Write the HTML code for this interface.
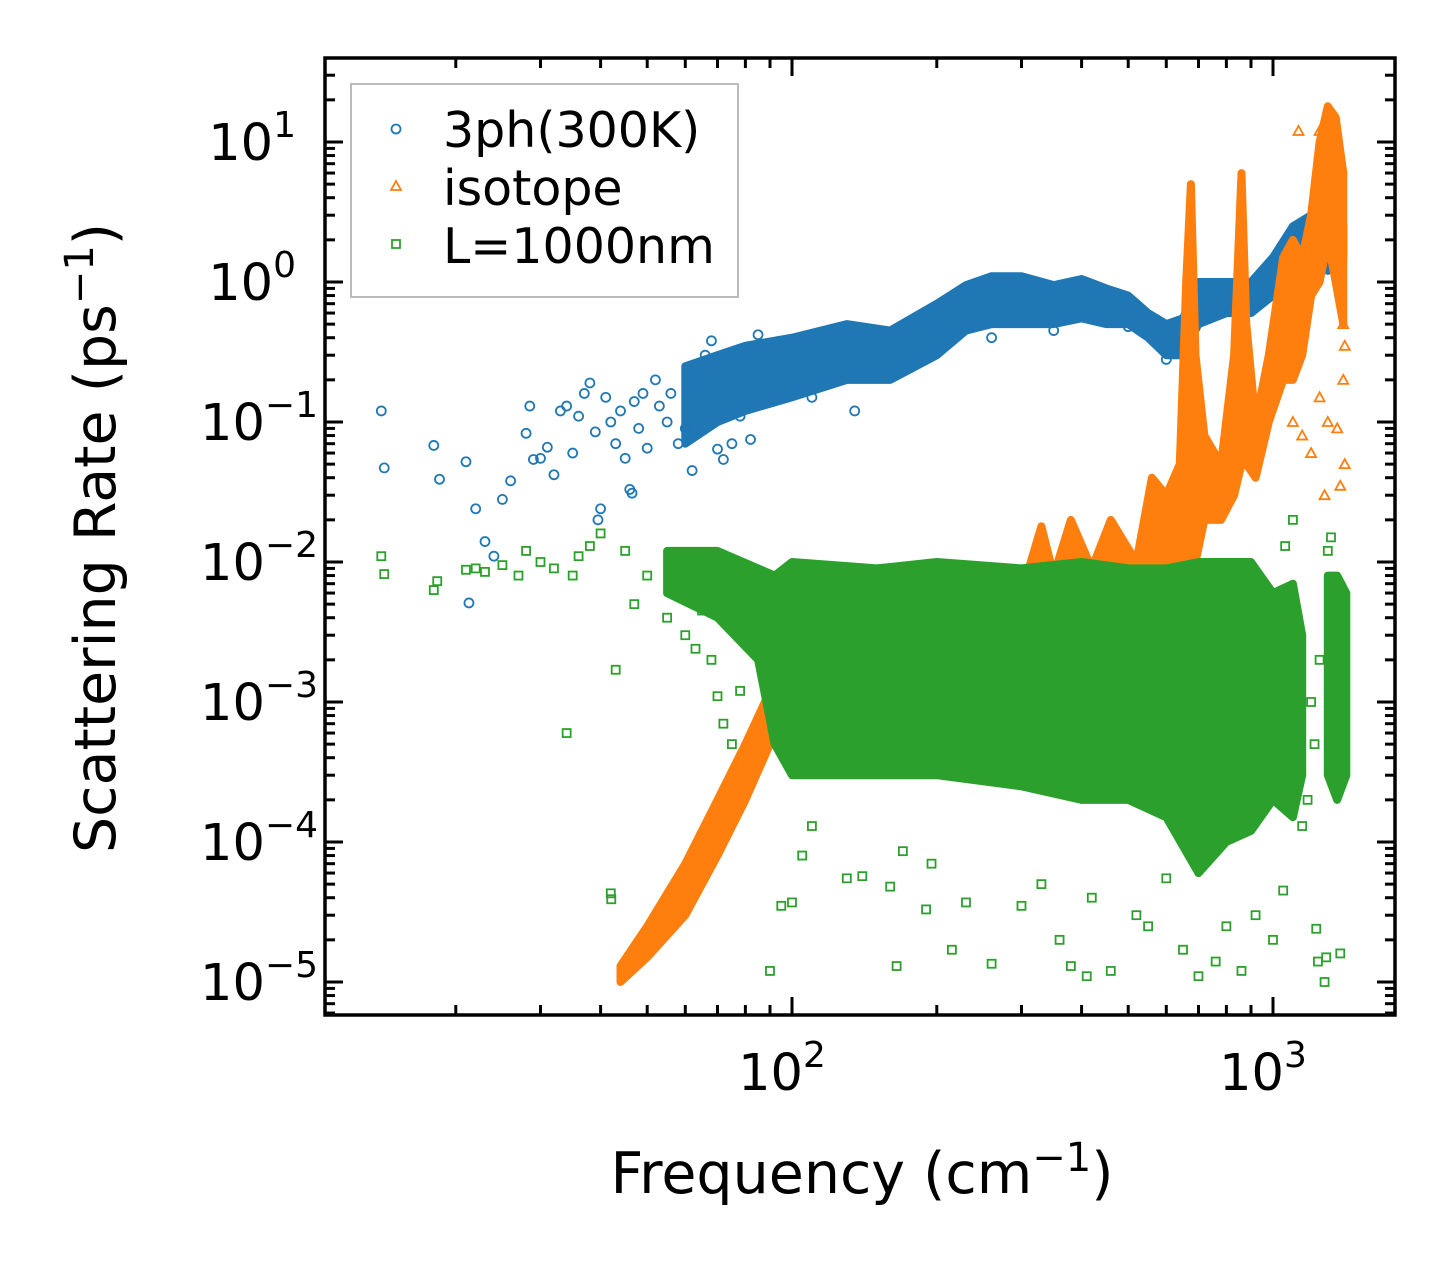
<!DOCTYPE html>
<html><head><meta charset="utf-8"><style>
body{margin:0;background:#fff}
svg text{font-family:"DejaVu Sans","Liberation Sans",sans-serif;fill:#000}
</style></head><body>
<svg id="chart" width="1455" height="1265" viewBox="0 0 1455 1265" xmlns="http://www.w3.org/2000/svg">
<rect width="1455" height="1265" fill="#fff"/>
<g id="plot"></g>
<g id="axes"></g>
<text transform="translate(115,538) rotate(-90)" text-anchor="middle" font-size="57">Scattering Rate (ps<tspan dy="-22" font-size="40">−1</tspan><tspan dy="22">)</tspan></text>
<text x="862" y="1193" text-anchor="middle" font-size="57">Frequency (cm<tspan dy="-22" font-size="40">−1</tspan><tspan dy="22">)</tspan></text>
<g>
<rect x="351" y="84" width="387" height="213" fill="#fff" stroke="#bbb" stroke-width="2"/>
<circle cx="396" cy="129" r="4.5" fill="none" stroke="#1f77b4" stroke-width="1.8"/>
<text x="443" y="147" font-size="49">3ph(300K)</text>
<path d="M396,181 l5,9 h-10 z" fill="none" stroke="#ff7f0e" stroke-width="1.8"/>
<text x="443" y="205" font-size="49">isotope</text>
<rect x="392" y="240" width="8" height="8" fill="none" stroke="#2ca02c" stroke-width="1.8"/>
<text x="443" y="263" font-size="49">L=1000nm</text>
</g>
</svg>
<script>
const xTicks=[100,1000];
const xTickLabels=["2","3"];
const yTicks=[1,0,-1,-2,-3,-4,-5];
// bands: [freq, low, high]
const blueBand=[[60,0.07,0.25],[70,0.1,0.3],[80,0.12,0.35],[100,0.15,0.4],[130,0.2,0.5],[160,0.2,0.45],[200,0.3,0.7],[230,0.45,0.95],[260,0.5,1.1],[300,0.5,1.1],[350,0.5,0.95],[400,0.55,1.05],[450,0.5,0.9],[500,0.5,0.8],[550,0.4,0.6],[600,0.3,0.5],[650,0.3,0.55],[700,0.5,1.0],[800,0.6,1.0],[900,0.6,1.0],[1000,0.8,1.5],[1100,1.0,2.5],[1200,1.5,3],[1300,1.2,3],[1400,1.5,2.5]];
const bluePts=[[14,0.12],[14.2,0.047],[18,0.068],[18.5,0.039],[21,0.052],[21.3,0.0051],[22,0.024],[23,0.014],[24,0.011],[25,0.028],[26,0.038],[28,0.083],[28.5,0.13],[29,0.054],[30,0.055],[31,0.066],[32,0.042],[33,0.12],[34,0.13],[35,0.06],[36,0.11],[37,0.16],[38,0.19],[39,0.085],[39.5,0.02],[40,0.024],[41,0.15],[42,0.1],[43,0.07],[44,0.12],[45,0.055],[46,0.033],[46.5,0.031],[47,0.14],[48,0.09],[49,0.16],[50,0.065],[52,0.2],[53,0.13],[55,0.1],[56,0.16],[58,0.07],[60,0.09],[62,0.045],[64,0.2],[66,0.3],[68,0.38],[70,0.064],[72,0.054],[75,0.07],[78,0.11],[82,0.075],[85,0.42],[110,0.15],[135,0.12],[200,0.45],[260,0.4],[350,0.45],[500,0.48],[600,0.28]];
const orangeBand=[[44,1e-5,1.3e-5],[50,1.5e-5,2.5e-5],[60,3e-5,7e-5],[70,8e-5,2e-4],[80,2e-4,5e-4],[90,5e-4,1.2e-3],[100,1e-3,3e-3],[130,2e-3,5e-3],[160,3e-3,9e-3],[200,3e-3,7e-3],[250,3e-3,7e-3],[300,3e-3,6e-3],[330,4e-3,1.8e-2],[350,4e-3,8e-3],[380,4e-3,2e-2],[420,4e-3,9e-3],[460,5e-3,2e-2],[520,5e-3,1e-2],[560,6e-3,4e-2],[600,6e-3,3e-2],[640,6e-3,5e-2],[660,6e-3,1],[675,0.01,5],[690,0.01,0.3],[720,0.02,0.08],[780,0.02,0.05],[830,0.03,0.3],[860,0.05,6],[880,0.05,0.5],[920,0.04,0.1],[980,0.1,0.3],[1050,0.2,1.5],[1100,0.2,2],[1150,0.3,1.5],[1200,0.8,3],[1250,1,10],[1300,2,18],[1350,1,15],[1400,0.5,6]];
const orangePts=[[1100,0.1],[1150,0.08],[1200,0.06],[1250,0.15],[1300,0.1],[1360,0.09],[1400,0.2],[1280,0.03],[1380,0.035],[1410,0.05],[700,1.9e-4],[1130,12],[1250,12],[1400,0.5],[1050,0.5],[1410,0.35]];
const greenBand=[[55,0.006,0.012],[70,0.004,0.012],[85,0.002,0.009],[92,5e-4,0.008],[100,3e-4,0.01],[150,3e-4,0.009],[200,3e-4,0.01],[300,2.5e-4,0.009],[400,2e-4,0.01],[500,2e-4,0.009],[600,1.5e-4,0.009],[700,6e-5,0.01],[800,1e-4,0.01],[900,1.2e-4,0.01],[1000,2e-4,0.006],[1100,1.5e-4,0.007],[1150,3e-4,0.003]];
const greenBand2=[[1300,3e-4,0.008],[1360,2e-4,0.008],[1420,3e-4,0.006]];
const greenPts=[[14,0.011],[14.2,0.0082],[18,0.0063],[18.3,0.0073],[21,0.0088],[22,0.009],[23,0.0085],[25,0.0095],[27,0.008],[28,0.012],[30,0.01],[32,0.009],[34,0.0006],[35,0.008],[36,0.011],[38,0.013],[40,0.016],[42,4.3e-5],[42.1,3.9e-5],[43,0.0017],[45,0.012],[47,0.005],[50,0.008],[55,0.004],[60,0.003],[63,0.0024],[65,0.0045],[68,0.002],[70,0.0011],[72,7e-4],[75,5e-4],[78,0.0012],[80,0.005],[82,0.003],[85,0.004],[90,1.2e-5],[95,3.5e-5],[100,3.7e-5],[105,8e-5],[110,1.3e-4],[130,5.5e-5],[140,5.7e-5],[160,4.8e-5],[165,1.3e-5],[170,8.6e-5],[190,3.3e-5],[195,7e-5],[215,1.7e-5],[230,3.7e-5],[260,1.35e-5],[300,3.5e-5],[330,5e-5],[360,2e-5],[380,1.3e-5],[410,1.1e-5],[420,4e-5],[460,1.2e-5],[520,3e-5],[550,2.5e-5],[600,5.5e-5],[650,1.7e-5],[700,1.1e-5],[760,1.4e-5],[800,2.5e-5],[860,1.2e-5],[920,3e-5],[1000,2e-5],[1050,4.5e-5],[1150,1.3e-4],[1230,2.4e-5],[1240,1.4e-5],[1280,1e-5],[1290,1.5e-5],[1380,1.6e-5],[1300,0.012],[1320,0.015],[1100,0.02],[1060,0.013],[1200,0.001],[1220,5e-4],[1250,0.002],[1180,2e-4]];

const L=325,R=1395,T=58,B=1015;
const X0=792,XD=481,Y0=282,YD=140;
function px(f){return X0+(Math.log10(f)-2)*XD;}
function py(v){return Y0-Math.log10(v)*YD;}
const NS="http://www.w3.org/2000/svg";
const plot=document.getElementById('plot');
const axes=document.getElementById('axes');
function mk(tag,attrs,parent){const e=document.createElementNS(NS,tag);for(const k in attrs)e.setAttribute(k,attrs[k]);parent.appendChild(e);return e;}

function band(data,color,name){
  let d="M"+data.map(p=>px(p[0]).toFixed(1)+","+py(p[2]).toFixed(1)).join("L");
  d+="L"+data.slice().reverse().map(p=>px(p[0]).toFixed(1)+","+py(p[1]).toFixed(1)).join("L")+"Z";
  const e=mk('path',{d:d,fill:color,stroke:color,'stroke-width':8,'stroke-linejoin':'round'},plot);
  
  
}
function circles(data,name){
  data.forEach(p=>{const e=mk('circle',{cx:px(p[0]),cy:py(p[1]),r:4.5,fill:'none',stroke:'#1f77b4','stroke-width':1.8},plot);
  
  });
}
function tris(data,name){
  data.forEach(p=>{const x=px(p[0]),y=py(p[1]);const e=mk('path',{d:`M${x},${y-5}l5,9h-10z`,fill:'none',stroke:'#ff7f0e','stroke-width':1.8},plot);
  
  });
}
function squares(data,name){
  data.forEach(p=>{const e=mk('rect',{x:px(p[0])-4,y:py(p[1])-4,width:8,height:8,fill:'none',stroke:'#2ca02c','stroke-width':1.8},plot);
  
  });
}
band(blueBand,'#1f77b4','3ph-dense-band');
circles(bluePts,'3ph-point');
band(orangeBand,'#ff7f0e','isotope-dense-band');
tris(orangePts,'isotope-point');
band(greenBand,'#2ca02c','l1000-dense-band');
band(greenBand2,'#2ca02c','l1000-dense-band-high');
squares(greenPts,'l1000-point');

const fr=mk('rect',{x:L,y:T,width:R-L,height:B-T,fill:'none',stroke:'#000','stroke-width':3.5},axes);


for(let dec=1;dec<=3;dec++){for(let m=1;m<10;m++){const f=m*Math.pow(10,dec);const x=px(f);if(x<L||x>R)continue;const len=m===1?18:10;
  mk('line',{x1:x,y1:B,x2:x,y2:B-len,stroke:'#000','stroke-width':3},axes);
  mk('line',{x1:x,y1:T,x2:x,y2:T+len,stroke:'#000','stroke-width':3},axes);}}
xTicks.forEach((f,i)=>{const t=mk('text',{x:px(f)-10,y:1090,'text-anchor':'middle','font-size':51},axes);t.textContent='10';
  const s=mk('tspan',{dy:-23,'font-size':36},t);s.textContent=xTickLabels[i];
  
  });
for(let dec=-6;dec<=1;dec++){for(let m=1;m<10;m++){const v=m*Math.pow(10,dec);const y=py(v);if(y<T||y>B)continue;const len=m===1?18:10;
  mk('line',{x1:L,y1:y,x2:L+len,y2:y,stroke:'#000','stroke-width':3},axes);
  mk('line',{x1:R,y1:y,x2:R-len,y2:y,stroke:'#000','stroke-width':3},axes);}}
yTicks.forEach(e=>{const y=py(Math.pow(10,e));const t=mk('text',{x:e<0?318:296,y:y+18,'text-anchor':'end','font-size':51},axes);t.textContent='10';
  const s=mk('tspan',{dy:-23,'font-size':36},t);s.textContent=e<0?'−'+(-e):String(e);
  
  });
</script>
</body></html>
